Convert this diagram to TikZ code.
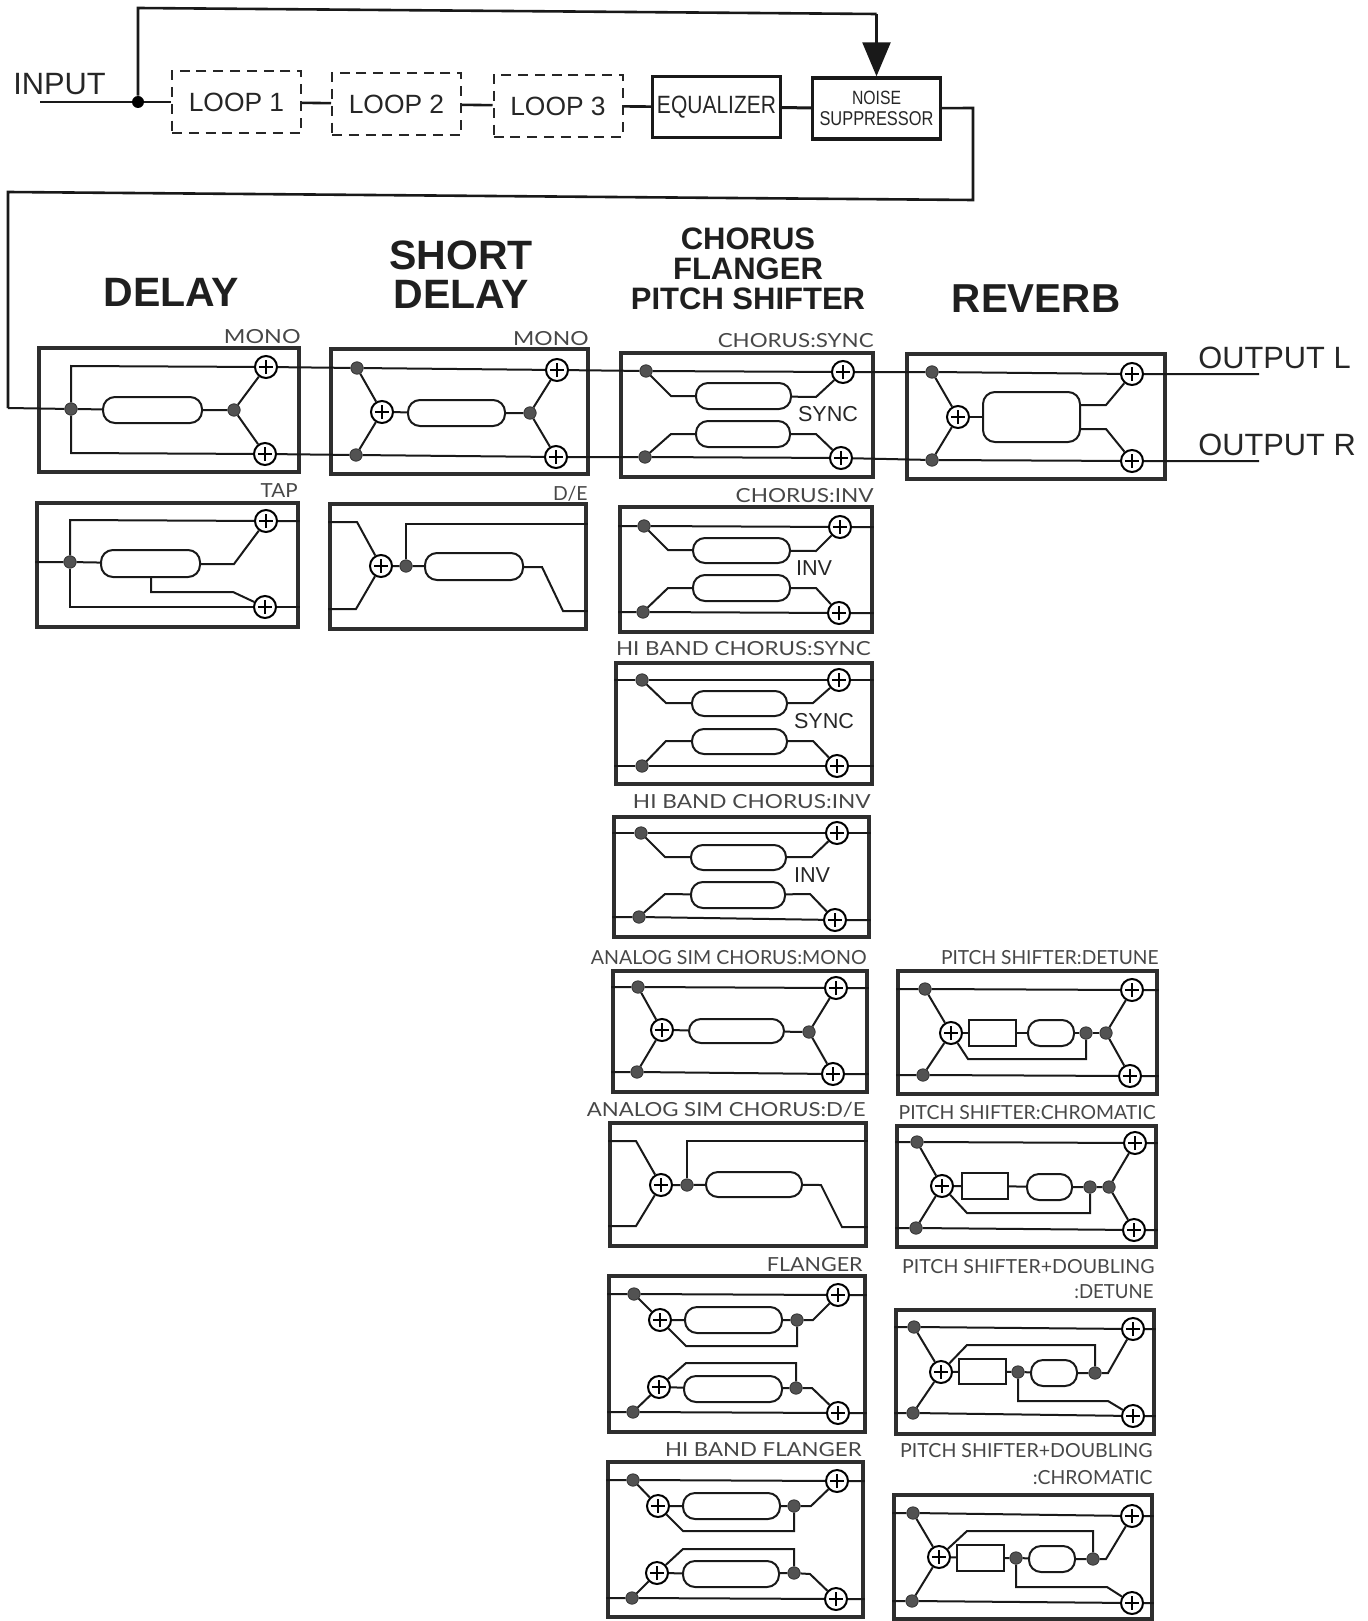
\documentclass[tikz,border=0pt]{standalone}
\usepackage{fontspec}
\usepackage{graphicx}
\setmainfont{Liberation Sans}
\newfontfamily\lblfont{Lato}
\usetikzlibrary{arrows.meta}
\newcommand\FxDot[3]{\node[dotn] (#1) at (#2,#3) {};}
\newcommand\FxPlus[3]{\node[plusn] (#1) at (#2,#3) {};}
\newcommand\FxPt[3]{\coordinate (#1) at (#2,#3);}
\newcommand\FxPill[5]{\node[pilln,minimum width={(#3-#2)*.5pt},minimum height={(#5-#4)*.5pt}] (#1) at ({(#2+#3)/2},{(#4+#5)/2}) {};}
\newcommand\FxRect[5]{\node[rectn,minimum width={(#3-#2)*.5pt},minimum height={(#5-#4)*.5pt}] (#1) at ({(#2+#3)/2},{(#4+#5)/2}) {};}
\newcommand\FxBox[5]{\node[fxbox,minimum width={(#3-#2-2)*.5pt},minimum height={(#5-#4-2)*.5pt}] (#1) at ({(#2+#3)/2},{(#4+#5)/2}) {};}
\newcommand\FxLabel[5][1]{\node[lbl] (#2) at (#3,#4) {\scalebox{#1}[1]{#5}};}
\tikzset{
  conn/.style={line width=1pt,draw=black!90,line join=miter},
  dotn/.style={circle,fill=black!68,draw=black!80,line width=.4pt,minimum size=6.2pt,inner sep=0pt},
  plusn/.style={circle,fill=white,draw=black,line width=1pt,minimum size=11pt,inner sep=0pt,
    path picture={\draw[line width=.8pt]
      ([xshift=-3.6pt]path picture bounding box.center) -- ([xshift=3.6pt]path picture bounding box.center)
      ([yshift=-3.6pt]path picture bounding box.center) -- ([yshift=3.6pt]path picture bounding box.center);}},
  pilln/.style={rectangle,rounded corners=6pt,draw=black!90,fill=white,line width=1pt,inner sep=0pt},
  rectn/.style={rectangle,draw=black!90,fill=white,line width=1pt,inner sep=0pt},
  fxbox/.style={rectangle,draw=black!82,line width=1.9pt,inner sep=0pt},
  lbl/.style={anchor=base east,inner sep=0pt,text=black!72,font=\lblfont\fontsize{9.7}{11}\selectfont},
  inner/.style={inner sep=0pt,text=black!85,font=\fontsize{10.8}{13}\selectfont},
  ttl/.style={inner sep=0pt,text=black!88,font=\bfseries\fontsize{20.5}{23}\selectfont},
  ttls/.style={inner sep=0pt,text=black!88,font=\bfseries\fontsize{15.5}{15}\selectfont},
  ioT/.style={inner sep=0pt,anchor=base west,text=black!85,font=\fontsize{15.4}{18}\selectfont},
  loopb/.style={rectangle,draw=black!85,line width=1pt,dash pattern=on 5pt off 3.4pt,inner sep=0pt,minimum width=64.5pt,minimum height=31pt,text=black!85,font=\fontsize{13.2}{15}\selectfont},
  solidb/.style={rectangle,draw=black!90,line width=1.7pt,inner sep=0pt,minimum width=64pt,minimum height=30.5pt,text=black!85}
}
\begin{document}
\begin{tikzpicture}[x=.5pt,y=-.5pt]
\useasboundingbox (0,0) rectangle (1368,1621);
% ---------- top chain
\node[ioT] (inT) at (13,95) {INPUT};
\node[loopb] (l1) at (236.5,102) {LOOP 1};
\node[loopb] (l2) at (396.5,104) {LOOP 2};
\node[loopb] (l3) at (558,106) {LOOP 3};
\node[solidb] (eq) at (716.5,107) {\fontsize{12.5}{14}\selectfont\scalebox{.84}[1]{EQUALIZER}};
\node[solidb,align=center] (ns) at (876.5,108.5) {\fontsize{9.6}{9.6}\selectfont\scalebox{.82}[1]{NOISE}\\[-1.2pt]\scalebox{.82}[1]{SUPPRESSOR}};
\node[circle,fill=black,minimum size=6pt,inner sep=0pt] (ij) at (138,102) {};
\FxPt{inS}{40}{102}
\FxPt{fbA}{138}{8}
\FxPt{fbB}{876.5}{14}
\FxPt{nsA}{973}{108}
\FxPt{nsB}{973}{200}
\FxPt{nsC}{8}{192}
\FxPt{nsD}{8}{408}
\draw[conn,line width=1.3pt] (inS) -- (ij) -- (l1);
\draw[conn,line width=1.3pt] (ij) -- (fbA) -- (fbB);
\draw[conn,line width=1.3pt,-{Triangle[length=17pt,width=14pt]}] (fbB) -- (ns.north);
\draw[conn,line width=1.3pt] (l1) -- (l2);
\draw[conn,line width=1.3pt] (l2) -- (l3);
\draw[conn,line width=1.3pt] (l3) -- (eq);
\draw[conn,line width=1.5pt] (eq) -- (ns);
\draw[conn,line width=1.3pt] (ns) -- (nsA) -- (nsB) -- (nsC) -- (nsD);
% ---------- titles
\node[ttl] (t1) at (171,292) {DELAY};
\node[ttl] (t2a) at (461,255) {SHORT};
\node[ttl] (t2b) at (461,294) {DELAY};
\node[ttls] (t3a) at (748,239) {CHORUS};
\node[ttls] (t3b) at (748,269) {FLANGER};
\node[ttls] (t3c) at (748,299) {PITCH SHIFTER};
\node[ttl,font=\bfseries\fontsize{20.2}{23}\selectfont] (t4) at (1036,299) {REVERB};
\node[ioT] (oL) at (1198,368) {OUTPUT L};
\node[ioT] (oR) at (1198,455) {OUTPUT R};
% ---------- DELAY MONO
\FxBox{a}{38}{300}{347}{473}
\FxLabel[1.2]{aL}{301}{343}{MONO}
\FxDot{aj}{71}{409}
\FxPill{ap}{103}{202}{397}{423}
\FxDot{ad}{234}{410}
\FxPlus{aT}{266}{367}
\FxPlus{aB}{265}{454}
\FxPt{a1}{71}{366}
\FxPt{a2}{71}{453}
\draw[conn] (nsD) -- (aj) -- (ap) -- (ad);
\draw[conn] (aj) -- (a1) -- (aT);
\draw[conn] (aj) -- (a2) -- (aB);
\draw[conn] (ad) -- (aT);
\draw[conn] (ad) -- (aB);
% ---------- SHORT DELAY MONO
\FxBox{b}{330}{589}{348}{475}
\FxLabel[1.18]{bL}{589}{345}{MONO}
\FxDot{bt}{357}{368}
\FxDot{bb}{356}{455}
\FxPlus{bi}{382}{412}
\FxPill{bp}{408}{505}{400}{426}
\FxDot{bd}{530}{413}
\FxPlus{bT}{557}{370}
\FxPlus{bB}{556}{457}
\draw[conn] (aT) -- (bt) -- (bT);
\draw[conn] (aB) -- (bb) -- (bB);
\draw[conn] (bt) -- (bi);
\draw[conn] (bb) -- (bi);
\draw[conn] (bi) -- (bp) -- (bd);
\draw[conn] (bd) -- (bT);
\draw[conn] (bd) -- (bB);
% ---------- CHORUS:SYNC
\FxBox{c}{620}{874}{352}{478}
\FxLabel[1.153]{cL}{874}{347}{CHORUS:SYNC}
\FxDot{ct}{646}{371}
\FxDot{cb}{645}{457}
\FxPlus{cT}{843}{372}
\FxPlus{cB}{841}{458}
\FxPill{cp}{696}{791}{383}{409}
\FxPill{cq}{696}{790}{421}{447}
\node[inner] (cS) at (828,414) {SYNC};
\FxPt{c1}{671}{396}
\FxPt{c2}{816}{397}
\FxPt{c3}{671}{434}
\FxPt{c4}{816}{434}
\draw[conn] (bT) -- (ct) -- (cT);
\draw[conn] (bB) -- (cb) -- (cB);
\draw[conn] (ct) -- (c1) -- (cp);
\draw[conn] (cp) -- (c2) -- (cT);
\draw[conn] (cb) -- (c3) -- (cq);
\draw[conn] (cq) -- (c4) -- (cB);
% ---------- REVERB
\FxBox{r}{906}{1166}{353}{480}
\FxDot{rt}{932}{372}
\FxDot{rb}{932}{460}
\FxPlus{ri}{958}{417}
\node[pilln,rounded corners=6pt,minimum width=48.5pt,minimum height=25pt] (rp) at (1031.5,417) {};
\FxPlus{rT}{1132}{374}
\FxPlus{rB}{1132}{461}
\FxPt{r1}{1106}{405}
\FxPt{r2}{1106}{429}
\FxPt{r3}{1259}{374}
\FxPt{r4}{1259}{461}
\draw[conn] (cT) -- (rt) -- (rT) -- (r3);
\draw[conn] (cB) -- (rb) -- (rB) -- (r4);
\draw[conn] (rt) -- (ri);
\draw[conn] (rb) -- (ri);
\draw[conn] (ri) -- (rp);
\draw[conn] (rp.east |- r1) -- (r1) -- (rT);
\draw[conn] (rp.east |- r2) -- (r2) -- (rB);
% ---------- TAP
\FxBox{d}{36}{299}{502}{628}
\FxLabel[1.06]{dL}{298}{497}{TAP}
\FxDot{dj}{70}{562}
\FxPill{dp}{101}{200}{550}{577}
\FxPlus{dT}{266}{521}
\FxPlus{dB}{265}{607}
\FxPt{d1}{70}{520}
\FxPt{d2}{70}{607}
\FxPt{d3}{234}{564}
\FxPt{d4}{151}{592}
\FxPt{d5}{233}{592}
\draw[conn] (d.west |- dj) -- (dj) -- (dp);
\draw[conn] (dj) -- (d1) -- (dT) -- (d.east |- dT);
\draw[conn] (dj) -- (d2) -- (dB) -- (d.east |- dB);
\draw[conn] (dp.east |- d3) -- (d3) -- (dT);
\draw[conn] (dp.south -| d4) -- (d4) -- (d5) -- (dB);
% ---------- SHORT D/E
\FxBox{e}{329}{587}{503}{630}
\FxLabel{eL}{588}{500}{D/E}
\FxPlus{ei}{381}{566}
\FxDot{ed}{406}{566}
\FxPill{ep}{425}{523}{553}{580}
\FxPt{e1}{357}{522}
\FxPt{e2}{356}{609}
\FxPt{e3}{406}{524}
\FxPt{e4}{542}{567}
\FxPt{e5}{563}{611}
\draw[conn] (e.west |- e1) -- (e1) -- (ei);
\draw[conn] (e.west |- e2) -- (e2) -- (ei);
\draw[conn] (ei) -- (ed) -- (ep);
\draw[conn] (ed) -- (e3) -- (e.east |- e3);
\draw[conn] (ep.east |- e4) -- (e4) -- (e5) -- (e.east |- e5);
% ---------- CHORUS:INV
\FxBox{f}{619}{873}{506}{633}
\FxLabel[1.165]{fL}{874}{502}{CHORUS:INV}
\FxDot{ft}{644}{526}
\FxDot{fb}{643}{612}
\FxPlus{fT}{840}{527}
\FxPlus{fB}{839}{613}
\FxPill{fp}{693}{790}{538}{563}
\FxPill{fq}{693}{790}{575}{601}
\node[inner] (fS) at (814,568) {INV};
\FxPt{f1}{668}{550}
\FxPt{f2}{816}{551}
\FxPt{f3}{668}{588}
\FxPt{f4}{816}{588}
\draw[conn] (f.west |- ft) -- (ft) -- (fT) -- (f.east |- fT);
\draw[conn] (f.west |- fb) -- (fb) -- (fB) -- (f.east |- fB);
\draw[conn] (ft) -- (f1) -- (fp);
\draw[conn] (fp) -- (f2) -- (fT);
\draw[conn] (fb) -- (f3) -- (fq);
\draw[conn] (fq) -- (f4) -- (fB);
% ---------- HI BAND CHORUS:SYNC
\FxBox{g}{615}{873}{662}{785}
\FxLabel[1.155]{gL}{871}{655}{HI BAND CHORUS:SYNC}
\FxDot{gt}{642}{680}
\FxDot{gb}{642}{766}
\FxPlus{gT}{839}{680}
\FxPlus{gB}{837}{766}
\FxPill{gp}{692}{787}{691}{716}
\FxPill{gq}{692}{787}{729}{754}
\node[inner] (gS) at (824,721) {SYNC};
\FxPt{g1}{666}{703}
\FxPt{g2}{813}{703}
\FxPt{g3}{666}{741}
\FxPt{g4}{813}{741}
\draw[conn] (g.west |- gt) -- (gt) -- (gT) -- (g.east |- gT);
\draw[conn] (g.west |- gb) -- (gb) -- (gB) -- (g.east |- gB);
\draw[conn] (gt) -- (g1) -- (gp);
\draw[conn] (gp) -- (g2) -- (gT);
\draw[conn] (gb) -- (g3) -- (gq);
\draw[conn] (gq) -- (g4) -- (gB);
% ---------- HI BAND CHORUS:INV
\FxBox{h}{613}{870}{816}{938}
\FxLabel[1.167]{hL}{871}{808}{HI BAND CHORUS:INV}
\FxDot{ht}{641}{833}
\FxDot{hb}{639}{917}
\FxPlus{hT}{837}{833}
\FxPlus{hB}{835}{920}
\FxPill{hp}{691}{786}{845}{870}
\FxPill{hq}{691}{785}{882}{908}
\node[inner] (hS) at (812,875) {INV};
\FxPt{h1}{665}{857}
\FxPt{h2}{812}{857}
\FxPt{h3}{665}{894}
\FxPt{h4}{810}{894}
\draw[conn] (h.west |- ht) -- (ht) -- (hT) -- (h.east |- hT);
\draw[conn] (h.west |- hb) -- (hb) -- (hB) -- (h.east |- hB);
\draw[conn] (ht) -- (h1) -- (hp);
\draw[conn] (hp) -- (h2) -- (hT);
\draw[conn] (hb) -- (h3) -- (hq);
\draw[conn] (hq) -- (h4) -- (hB);
% ---------- ANALOG SIM CHORUS:MONO
\FxBox{i}{612}{868}{970}{1093}
\FxLabel[1.01]{iL}{867}{964}{ANALOG SIM CHORUS:MONO}
\FxDot{it}{638}{987}
\FxDot{ib}{637}{1072}
\FxPlus{iT}{836}{988}
\FxPlus{iB}{833}{1074}
\FxPlus{ia}{662}{1030}
\FxPill{ip}{689}{784}{1019}{1043}
\FxDot{id}{809}{1032}
\draw[conn] (i.west |- it) -- (it) -- (iT) -- (i.east |- iT);
\draw[conn] (i.west |- ib) -- (ib) -- (iB) -- (i.east |- iB);
\draw[conn] (it) -- (ia);
\draw[conn] (ib) -- (ia);
\draw[conn] (ia) -- (ip) -- (id);
\draw[conn] (id) -- (iT);
\draw[conn] (id) -- (iB);
% ---------- ANALOG SIM CHORUS:D/E
\FxBox{j}{609}{867}{1122}{1247}
\FxLabel[1.145]{jL}{866}{1116}{ANALOG SIM CHORUS:D/E}
\FxPlus{ja}{661}{1185}
\FxDot{jd}{687}{1185}
\FxPill{jp}{706}{802}{1172}{1197}
\FxPt{j1}{636}{1141}
\FxPt{j2}{636}{1226}
\FxPt{j3}{687}{1141}
\FxPt{j4}{821}{1185}
\FxPt{j5}{842}{1227}
\draw[conn] (j.west |- j1) -- (j1) -- (ja);
\draw[conn] (j.west |- j2) -- (j2) -- (ja);
\draw[conn] (ja) -- (jd) -- (jp);
\draw[conn] (jd) -- (j3) -- (j.east |- j3);
\draw[conn] (jp) -- (j4) -- (j5) -- (j.east |- j5);
% ---------- FLANGER
\FxBox{k}{608}{866}{1275}{1433}
\FxLabel[1.108]{kL}{863}{1271}{FLANGER}
\FxDot{kt}{634}{1294}
\FxDot{kb}{633}{1412}
\FxPlus{kT}{838}{1295}
\FxPlus{kB}{838}{1413}
\FxPlus{ka}{660}{1320}
\FxPlus{kc}{659}{1387}
\FxPill{kp}{685}{782}{1307}{1333}
\FxPill{kq}{684}{782}{1376}{1402}
\FxDot{kd}{797}{1320}
\FxDot{ke}{796}{1388}
\FxPt{k1}{813}{1320}
\FxPt{k2}{812}{1388}
\FxPt{k3}{797}{1346}
\FxPt{k4}{686}{1346}
\FxPt{k5}{796}{1363}
\FxPt{k6}{686}{1363}
\draw[conn] (k.west |- kt) -- (kt) -- (kT) -- (k.east |- kT);
\draw[conn] (k.west |- kb) -- (kb) -- (kB) -- (k.east |- kB);
\draw[conn] (kt) -- (ka);
\draw[conn] (kb) -- (kc);
\draw[conn] (ka) -- (kp) -- (kd) -- (k1) -- (kT);
\draw[conn] (kc) -- (kq) -- (ke) -- (k2) -- (kB);
\draw[conn] (kd) -- (k3) -- (k4) -- (ka);
\draw[conn] (ke) -- (k5) -- (k6) -- (kc);
% ---------- HI BAND FLANGER
\FxBox{l}{607}{864}{1461}{1618}
\FxLabel[1.145]{lL}{862}{1456}{HI BAND FLANGER}
\FxDot{lt}{633}{1480}
\FxDot{lb}{632}{1598}
\FxPlus{lT}{837}{1481}
\FxPlus{lB}{836}{1599}
\FxPlus{la}{658}{1506}
\FxPlus{lc}{657}{1573}
\FxPill{lp}{683}{780}{1493}{1519}
\FxPill{lq}{683}{779}{1561}{1587}
\FxDot{ld}{794}{1506}
\FxDot{le}{794}{1573}
\FxPt{l1}{811}{1506}
\FxPt{l2}{810}{1574}
\FxPt{l3}{794}{1531}
\FxPt{l4}{683}{1531}
\FxPt{l5}{794}{1549}
\FxPt{l6}{683}{1549}
\draw[conn] (l.west |- lt) -- (lt) -- (lT) -- (l.east |- lT);
\draw[conn] (l.west |- lb) -- (lb) -- (lB) -- (l.east |- lB);
\draw[conn] (lt) -- (la);
\draw[conn] (lb) -- (lc);
\draw[conn] (la) -- (lp) -- (ld) -- (l1) -- (lT);
\draw[conn] (lc) -- (lq) -- (le) -- (l2) -- (lB);
\draw[conn] (ld) -- (l3) -- (l4) -- (la);
\draw[conn] (le) -- (l5) -- (l6) -- (lc);
% ---------- PITCH SHIFTER:DETUNE
\FxBox{m}{897}{1158}{970}{1095}
\FxLabel[.99]{mL}{1159}{964}{PITCH SHIFTER:DETUNE}
\FxDot{mt}{925}{989}
\FxDot{mb}{923}{1075}
\FxPlus{mT}{1132}{990}
\FxPlus{mB}{1130}{1076}
\FxPlus{ma}{951}{1033}
\FxRect{mr}{969}{1016}{1020}{1046}
\FxPill{mp}{1028}{1074}{1020}{1046}
\FxDot{md}{1086}{1033}
\FxDot{me}{1106}{1033}
\FxPt{m1}{1086}{1059}
\FxPt{m2}{968}{1059}
\draw[conn] (m.west |- mt) -- (mt) -- (mT) -- (m.east |- mT);
\draw[conn] (m.west |- mb) -- (mb) -- (mB) -- (m.east |- mB);
\draw[conn] (mt) -- (ma);
\draw[conn] (mb) -- (ma);
\draw[conn] (ma) -- (mr) -- (mp) -- (md) -- (me);
\draw[conn] (me) -- (mT);
\draw[conn] (me) -- (mB);
\draw[conn] (md) -- (m1) -- (m2) -- (ma);
% ---------- PITCH SHIFTER:CHROMATIC
\FxBox{n}{896}{1157}{1125}{1248}
\FxLabel{nL}{1156}{1119}{PITCH SHIFTER:CHROMATIC}
\FxDot{nt}{917}{1142}
\FxDot{nb}{916}{1228}
\FxPlus{nT}{1135}{1143}
\FxPlus{nB}{1134}{1230}
\FxPlus{na}{942}{1186}
\FxRect{nr}{962}{1008}{1173}{1199}
\FxPill{np}{1027}{1072}{1174}{1200}
\FxDot{nd}{1090}{1187}
\FxDot{ne}{1109}{1187}
\FxPt{n1}{1090}{1213}
\FxPt{n2}{967}{1213}
\draw[conn] (n.west |- nt) -- (nt) -- (nT) -- (n.east |- nT);
\draw[conn] (n.west |- nb) -- (nb) -- (nB) -- (n.east |- nB);
\draw[conn] (nt) -- (na);
\draw[conn] (nb) -- (na);
\draw[conn] (na) -- (nr) -- (np) -- (nd) -- (ne);
\draw[conn] (ne) -- (nT);
\draw[conn] (ne) -- (nB);
\draw[conn] (nd) -- (n1) -- (n2) -- (na);
% ---------- PITCH SHIFTER+DOUBLING:DETUNE
\FxBox{o}{895}{1155}{1309}{1435}
\FxLabel[1.01]{oL}{1155}{1273}{PITCH SHIFTER+DOUBLING}
\FxLabel[.96]{oM}{1154}{1298}{:DETUNE}
\FxDot{ot}{914}{1327}
\FxDot{ob}{913}{1413}
\FxPlus{oT}{1133}{1329}
\FxPlus{oB}{1133}{1416}
\FxPlus{oa}{941}{1372}
\FxRect{or}{959}{1006}{1359}{1384}
\FxDot{od}{1018}{1372}
\FxPill{op}{1031}{1077}{1360}{1386}
\FxDot{oe}{1095}{1373}
\FxPt{o1}{1108}{1373}
\FxPt{o2}{1095}{1345}
\FxPt{o3}{967}{1345}
\FxPt{o4}{1018}{1401}
\FxPt{o5}{1108}{1401}
\draw[conn] (o.west |- ot) -- (ot) -- (oT) -- (o.east |- oT);
\draw[conn] (o.west |- ob) -- (ob) -- (oB) -- (o.east |- oB);
\draw[conn] (ot) -- (oa);
\draw[conn] (ob) -- (oa);
\draw[conn] (oa) -- (or) -- (od) -- (op) -- (oe) -- (o1) -- (oT);
\draw[conn] (oe) -- (o2) -- (o3) -- (oa);
\draw[conn] (od) -- (o4) -- (o5) -- (oB);
% ---------- PITCH SHIFTER+DOUBLING:CHROMATIC
\FxBox{q}{893}{1153}{1494}{1620}
\FxLabel[1.01]{qL}{1153}{1457}{PITCH SHIFTER+DOUBLING}
\FxLabel{qM}{1153}{1484}{:CHROMATIC}
\FxDot{qt}{913}{1513}
\FxDot{qb}{912}{1601}
\FxPlus{qT}{1132}{1516}
\FxPlus{qB}{1132}{1603}
\FxPlus{qa}{939}{1557}
\FxRect{qr}{957}{1004}{1545}{1571}
\FxDot{qd}{1016}{1558}
\FxPill{qp}{1029}{1075}{1546}{1572}
\FxDot{qe}{1093}{1559}
\FxPt{q1}{1106}{1559}
\FxPt{q2}{1093}{1531}
\FxPt{q3}{967}{1531}
\FxPt{q4}{1016}{1587}
\FxPt{q5}{1107}{1587}
\draw[conn] (q.west |- qt) -- (qt) -- (qT) -- (q.east |- qT);
\draw[conn] (q.west |- qb) -- (qb) -- (qB) -- (q.east |- qB);
\draw[conn] (qt) -- (qa);
\draw[conn] (qb) -- (qa);
\draw[conn] (qa) -- (qr) -- (qd) -- (qp) -- (qe) -- (q1) -- (qT);
\draw[conn] (qe) -- (q2) -- (q3) -- (qa);
\draw[conn] (qd) -- (q4) -- (q5) -- (qB);
\end{tikzpicture}
\end{document}
